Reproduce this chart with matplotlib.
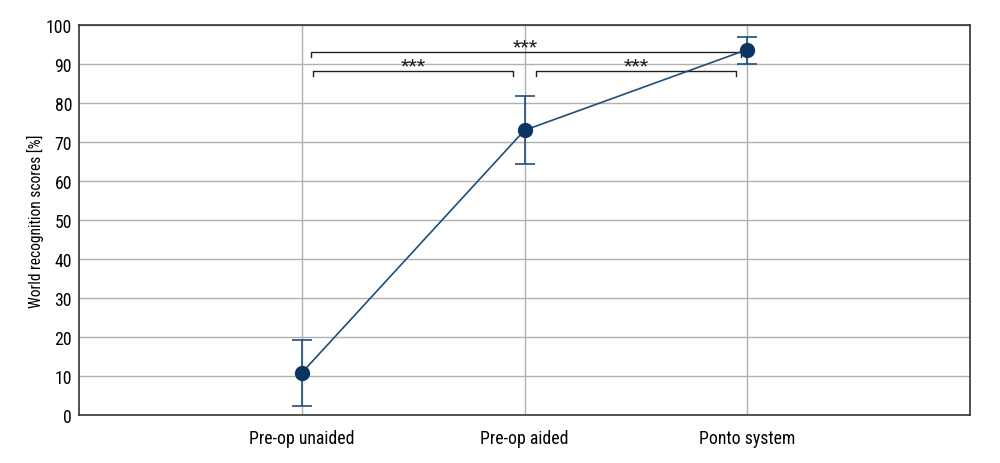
import matplotlib
matplotlib.use("Agg")
import matplotlib.pyplot as plt
from matplotlib import font_manager

categories = ["Pre-op unaided", "Pre-op aided", "Ponto system"]
means = [10.8, 73.0, 93.7]
err_low = [2.4, 64.4, 90.0]
err_high = [19.3, 81.8, 96.8]
yticks = list(range(0, 101, 10))
# significance brackets: (from idx, to idx, label, y level)
brackets = [(0, 2, "***", 93.2), (0, 1, "***", 88.3), (1, 2, "***", 88.3)]

names = {f.name for f in font_manager.fontManager.ttflist}
cond = [n for n in ["Liberation Sans Narrow", "Roboto Condensed", "Open Sans Condensed"] if n in names]
plt.rcParams["font.family"] = cond + ["DejaVu Sans"]
plt.rcParams["font.stretch"] = "condensed"

fig = plt.figure(figsize=(10, 4.64), dpi=100)
ax = fig.add_axes([0.079, (464 - 416) / 464, 0.891, (416 - 26) / 464])

x = [1, 2, 3]
line_col = "#1f4e7a"
mark_col = "#0c3461"
yerr = [[m - l for m, l in zip(means, err_low)], [h - m for m, h in zip(means, err_high)]]
ax.errorbar(x, means, yerr=yerr, fmt="none", ecolor=line_col, elinewidth=1.2, capsize=7, capthick=1.2, zorder=3)
ax.plot(x, means, color=line_col, lw=1.2, zorder=4)
ax.plot(x, means, "o", color=mark_col, ms=10, zorder=5)

ax.set_xlim(0, 4)
ax.set_ylim(0, 100)
ax.set_yticks(yticks)
ax.set_xticks(x)
ax.set_xticklabels(categories, fontsize=12.8)
ax.tick_params(axis="y", labelsize=12.8, length=0, pad=5)
ax.tick_params(axis="x", length=0, pad=10)
ax.grid(True, color="#b0b0b0", lw=1)
ax.set_axisbelow(True)
for s in ax.spines.values():
    s.set_color("#333333")
    s.set_linewidth(1.2)
ax.set_ylabel("World recognition scores [%]", fontsize=11.2, labelpad=1)

# brackets
offs = {(0, 2): (0.04, -0.03), (0, 1): (0.05, -0.05), (1, 2): (0.05, -0.05)}
for i, j, lab, yv in brackets:
    x0 = x[i] + offs[(i, j)][0]
    x1 = x[j] + offs[(i, j)][1]
    ax.plot([x0, x0, x1, x1], [yv - 1.5, yv, yv, yv - 1.5], color="#222222", lw=1.0, zorder=2)
    ax.text((x0 + x1) / 2, yv - 1.0, lab, ha="center", va="bottom", fontsize=14, color="#222222")

fig.savefig("out.png", dpi=100)
